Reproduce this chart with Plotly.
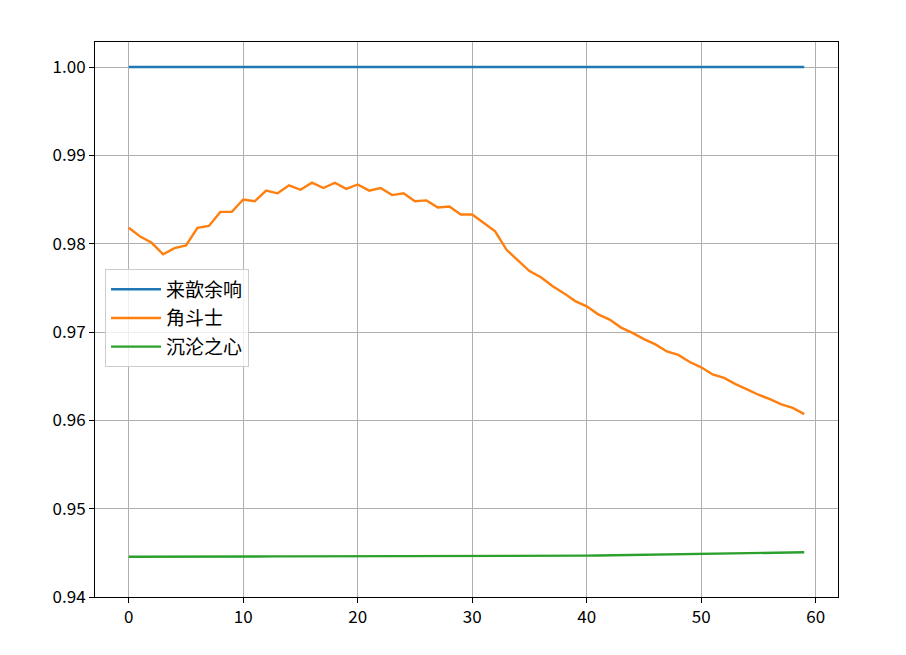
import plotly.graph_objects as go

x_vals = list(range(60))

blue_vals = [1.0] * 60

orange_vals = [
    0.9818, 0.9808, 0.9801, 0.9788, 0.9795, 0.9798, 0.9818, 0.9820, 0.9836, 0.9836,
    0.9850, 0.9848, 0.9860, 0.9857, 0.9866, 0.9861, 0.9869, 0.9863, 0.9869, 0.9862,
    0.9867, 0.9860, 0.9863, 0.9855, 0.9857, 0.9848, 0.9849, 0.9841, 0.9842, 0.9833,
    0.9833, 0.9824, 0.9814, 0.9793, 0.9781, 0.9769, 0.9762, 0.9752, 0.9744, 0.9735,
    0.9729, 0.9720, 0.9714, 0.9705, 0.9699, 0.9692, 0.9686, 0.9678, 0.9674, 0.9666,
    0.9660, 0.9652, 0.9648, 0.9641, 0.9635, 0.9629, 0.9624, 0.9618, 0.9614, 0.9607,
]

green_vals = [
    0.94455, 0.94456, 0.94457, 0.94458, 0.94459, 0.94460, 0.94460, 0.94460, 0.94460, 0.94460,
    0.94460, 0.94460, 0.94460, 0.94460, 0.94460, 0.94460, 0.94460, 0.94460, 0.94460, 0.94460,
    0.94460, 0.94460, 0.94460, 0.94460, 0.94460, 0.94460, 0.94460, 0.94460, 0.94460, 0.94460,
    0.94460, 0.94460, 0.94460, 0.94460, 0.94460, 0.94460, 0.94460, 0.94462, 0.94464, 0.94466,
    0.94468, 0.94470, 0.94472, 0.94474, 0.94476, 0.94478, 0.94480, 0.94482, 0.94484, 0.94486,
    0.94488, 0.94490, 0.94492, 0.94494, 0.94496, 0.94498, 0.94500, 0.94502, 0.94504, 0.94506,
]

series_names = ["来歆余响", "角斗士", "沉沦之心"]
series_colors = ["#1f77b4", "#ff7f0e", "#2ca02c"]

x_tick_vals = [0, 10, 20, 30, 40, 50, 60]
y_tick_vals = [0.94, 0.95, 0.96, 0.97, 0.98, 0.99, 1.00]

font_family = "Noto Sans CJK SC, DejaVu Sans, sans-serif"

fig = go.Figure()
for i, (name, vals, color) in enumerate(zip(series_names, [blue_vals, orange_vals, green_vals], series_colors)):
    fig.add_trace(go.Scatter(x=x_vals, y=vals, mode="lines", name=name,
                             legendgroup=f"g{i}",
                             line=dict(color=color, width=2.4)))

axis_common = dict(
    showline=True, linecolor="black", linewidth=1, mirror=True,
    ticks="outside", ticklen=5, tickwidth=1, tickcolor="black",
    showgrid=True, gridcolor="#b0b0b0", gridwidth=1,
    zeroline=False, tickfont=dict(family=font_family, size=17, color="black"),
)

fig.update_layout(
    width=906, height=655,
    paper_bgcolor="white", plot_bgcolor="white",
    margin=dict(l=87, r=76, t=34, b=66),
    font=dict(family=font_family, size=17, color="black"),
    xaxis=dict(range=[-2.95, 61.95], tickvals=x_tick_vals, **axis_common),
    yaxis=dict(range=[0.94, 1.00283], tickvals=y_tick_vals, tickformat=".2f", **axis_common),
    legend=dict(
        x=0.0135, y=0.502, xanchor="left", yanchor="middle",
        bgcolor="rgba(255,255,255,0.8)", bordercolor="#cccccc", borderwidth=1,
        font=dict(family=font_family, size=19, color="black"),
        tracegroupgap=1, itemwidth=50,
    ),
    showlegend=True,
)

fig.write_html("out.html")
